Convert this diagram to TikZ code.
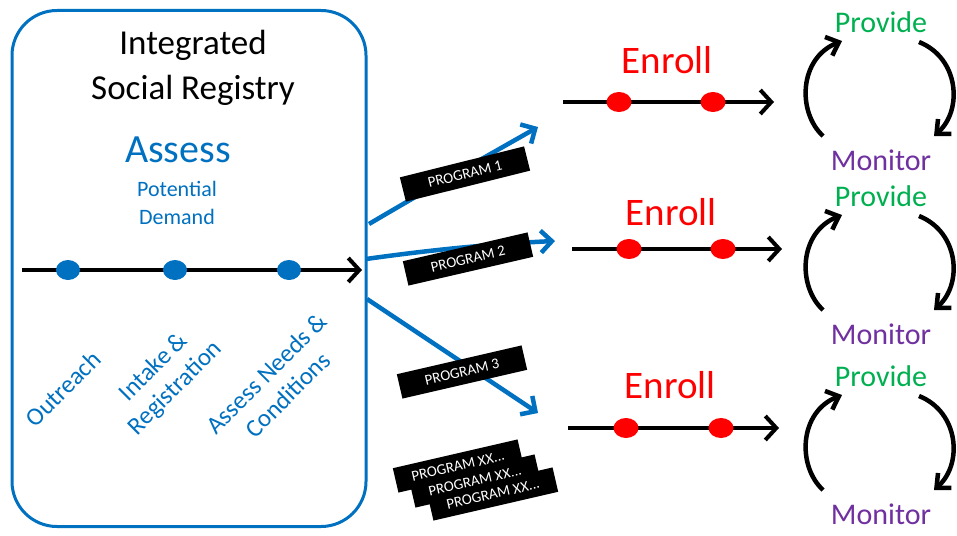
\documentclass[tikz,border=0pt]{standalone}
\usepackage{fontspec}
\setmainfont{Carlito}
\usetikzlibrary{arrows.meta,shapes.geometric}
\definecolor{myblue}{RGB}{0,112,192}
\definecolor{myred}{RGB}{255,0,0}
\definecolor{mygreen}{RGB}{0,176,80}
\definecolor{mypurple}{RGB}{112,48,160}
\tikzset{
  fs/.style={font=\fontsize{#1}{#1}\selectfont},
  rlab/.style={myblue, rotate=45, align=center, font=\fontsize{25}{30}\selectfont},
  dotb/.style={ellipse, fill=myblue, minimum width=24pt, minimum height=20pt, inner sep=0pt},
  dotr/.style={ellipse, fill=myred, minimum width=25pt, minimum height=20pt, inner sep=0pt},
  tline/.style={line width=4pt, -{Straight Barb[length=11pt,width=24pt]}},
  barrow/.style={myblue, line width=4.5pt, -{Straight Barb[length=11pt,width=22pt]}},
  carrow/.style={line width=4.5pt, -{Straight Barb[length=11pt,width=20pt]}},
  prog/.style={fill=black, text=white, minimum width=128pt, minimum height=25pt, inner sep=0pt, fs=15},
  enroll/.style={myred, fs=39},
  provide/.style={mygreen, fs=30},
  monitor/.style={mypurple, fs=30},
}
\begin{document}
\begin{tikzpicture}[x=1pt,y=-1pt]
\useasboundingbox (0,0) rectangle (957,535);
% registry box
\node (box) [draw=myblue, line width=3pt, rounded corners=45pt, minimum width=354pt, minimum height=516pt] at (189,268.5) {};
\node (t1) [fs=35] at (193,45) {Integrated};
\node (t2) [fs=35] at (193,90) {Social Registry};
\node (assess) [myblue, fs=40] at (178,150) {Assess};
\node (pot) [myblue, fs=22] at (177,189) {Potential};
\node (dem) [myblue, fs=22] at (177,217) {Demand};
% timeline
\coordinate (ls) at (22,270);
\coordinate (le) at (362,270);
\draw[tline] (ls) -- (le);
\node (d1) [dotb] at (68,270) {};
\node (d2) [dotb] at (175,270) {};
\node (d3) [dotb] at (289,270) {};
\node (l1) [rlab] at (63,389) {Outreach};
\node (l2) [rlab] at (165,378) {Intake \&\\Registration};
\node (l3) [rlab] at (277,384) {Assess Needs \&\\Conditions};
% blue arrows
\coordinate (a1s) at (369,224);
\coordinate (a1e) at (538,127);
\coordinate (a2s) at (366,259);
\coordinate (a2e) at (555,241);
\coordinate (a3s) at (367,299);
\coordinate (a3e) at (538,413);
\draw[barrow] (a1s) .. controls (430,188) and (480,160) .. (a1e);
\draw[barrow] (a2s) .. controls (430,250) and (490,244) .. (a2e);
\draw[barrow] (a3s) -- (a3e);
% program labels
\node (p1) [prog, rotate=14] at (465,174) {PROGRAM 1};
\node (p2) [prog, rotate=13] at (468,259) {PROGRAM 2};
\node (p3) [prog, rotate=13] at (462,372) {PROGRAM 3};
\node (px1) [prog, rotate=13] at (458,466) {PROGRAM XX...};
\node (px2) [prog, rotate=13] at (475,481) {PROGRAM XX...};
\node (px3) [prog, rotate=13] at (493,494) {PROGRAM XX...};
% enroll rows
\node (e1) [enroll] at (667,60) {Enroll};
\coordinate (e1s) at (563,102); \coordinate (e1e) at (774,102);
\draw[tline] (e1s) -- (e1e);
\node (e1a) [dotr] at (619,102) {};
\node (e1b) [dotr] at (713,102) {};
\node (e2) [enroll] at (671,212) {Enroll};
\coordinate (e2s) at (572,249); \coordinate (e2e) at (782,249);
\draw[tline] (e2s) -- (e2e);
\node (e2a) [dotr] at (629,249) {};
\node (e2b) [dotr] at (723,249) {};
\node (e3) [enroll] at (670,385) {Enroll};
\coordinate (e3s) at (568,428); \coordinate (e3e) at (779,428);
\draw[tline] (e3s) -- (e3e);
\node (e3a) [dotr] at (626,428) {};
\node (e3b) [dotr] at (721,428) {};
% cycles
\foreach \dy/\i in {0/1,174/2,354/3}{
  \node (pr\i) [provide] at (881,22+\dy) {Provide};
  \node (mo\i) [monitor] at (881,160+\dy) {Monitor};
  \coordinate (cl\i s) at (823,136+\dy);
  \coordinate (cl\i e) at (842,41+\dy);
  \coordinate (cr\i s) at (919,42+\dy);
  \coordinate (cr\i e) at (934,136+\dy);
  \draw[carrow] (cl\i s) .. controls (797,112+\dy) and (799,58+\dy) .. (cl\i e);
  \draw[carrow] (cr\i s) .. controls (959,58+\dy) and (963,110+\dy) .. (cr\i e);
}
\end{tikzpicture}
\end{document}
